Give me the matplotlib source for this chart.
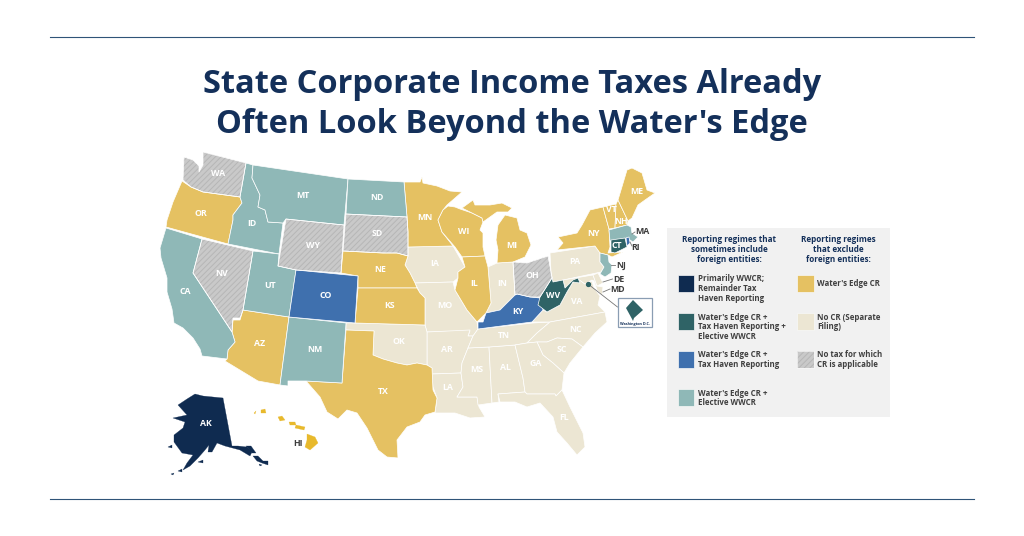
import matplotlib
matplotlib.use("Agg")
import matplotlib.pyplot as plt
from matplotlib.patches import Polygon, Rectangle

TITLE = ["State Corporate Income Taxes Already", "Often Look Beyond the Water's Edge"]
NAVY, DTEAL, BLUE, TEAL, YEL, BEIGE, NOTAX = "#0f2b50", "#2f6366", "#3f70ae", "#8fb8b7", "#e5c162", "#ece6d3", "#c9c9c9"
HATCH = "#b6b6b6"

REGIMES = {
    NOTAX: ["WA", "NV", "WY", "SD", "OH"],
    BEIGE: ["IA", "MO", "AR", "LA", "MS", "AL", "TN", "IN", "PA", "VA", "NC", "SC", "GA", "FL", "OK", "MD", "DE"],
    YEL: ["OR", "AZ", "TX", "NE", "KS", "MN", "WI", "IL", "MI", "NY", "VT", "NH", "ME", "HI"],
    TEAL: ["CA", "ID", "MT", "UT", "NM", "ND", "MA", "NJ"],
    BLUE: ["CO", "KY", "RI"],
    DTEAL: ["WV", "CT", "DC"],
    NAVY: ["AK"],
}

# Traced state outlines, as reference-image positions
SHAPES = {
 "WA": [[(203,152),(246,163),(240,197),(203,192),(191,187),(183,180),(184,157),(193,160),(199,166),(199,172),(203,165)]],
 "OR": [[(182,181),(191,187),(203,192),(240,197),(242,203),(233,215),(233,220),(228,244),(166,227),(167,220),(173,202)]],
 "CA": [[(166,228),(202,239),(193,273),(232,332),(235,342),(228,350),(227,359),(202,356),(200,349),(193,338),(183,328),(174,323),(172,309),(167,292),(167,278),(161,258),(160,248)]],
 "NV": [[(202,239),(253,251),(243,310),(240,318),(233,318),(232,332),(193,273)]],
 "ID": [[(246,163),(253,165),(252,178),(260,195),(258,207),(265,210),(268,222),(283,223),(279,254),(228,244),(233,220),(233,215),(242,203),(240,197)]],
 "MT": [[(253,165),(348,179),(344,225),(286,219),(283,223),(268,222),(265,210),(258,207),(260,195),(252,178)]],
 "WY": [[(286,219),(344,225),(341,273),(296,270),(278,266)]],
 "UT": [[(253,251),(279,254),(278,266),(296,270),(289,317),(243,310)]],
 "CO": [[(296,270),(358,276),(355,323),(289,317)]],
 "AZ": [[(243,310),(289,317),(280,385),(258,381),(225,361),(227,359),(228,350),(235,342),(232,332),(233,320),(240,320)]],
 "NM": [[(289,317),(346,323),(342,383),(306,381),(288,381),(288,386),(280,385)]],
 "ND": [[(348,179),(404,182),(407,217),(346,214)]],
 "SD": [[(346,214),(407,217),(408,232),(408,247),(408,256),(397,253),(383,253),(343,251)]],
 "NE": [[(343,251),(383,253),(397,253),(408,256),(405,265),(410,273),(415,283),(417,288),(358,288),(358,276),(341,273)]],
 "KS": [[(358,288),(417,288),(420,293),(425,298),(425,325),(355,323)]],
 "OK": [[(346,323),(355,323),(425,325),(427,332),(427,365),(417,363),(407,365),(397,363),(383,359),(373,355),(374,331),(346,330)]],
 "TX": [[(346,330),(374,331),(373,355),(383,359),(397,363),(407,365),(417,363),(427,365),(432,368),(433,390),(437,398),(435,412),(425,415),(420,422),(407,427),(397,440),(398,458),(387,457),(378,450),(367,428),(357,413),(347,410),(338,419),(327,412),(320,397),(306,381),(342,383)]],
 "MN": [[(404,182),(420,182),(422,177),(423,183),(437,186),(450,191),(462,192),(447,205),(443,210),(438,220),(442,232),(453,246),(408,247),(408,232),(407,217)]],
 "IA": [[(408,247),(453,246),(457,253),(465,267),(458,272),(458,278),(453,282),(415,283),(410,273),(405,265),(408,256)]],
 "MO": [[(415,283),(453,282),(455,290),(467,310),(477,322),(478,329),(473,336),(468,336),(470,331),(427,332),(425,325),(425,298),(420,293)]],
 "AR": [[(427,332),(470,330),(468,336),(473,336),(468,348),(462,363),(461,373),(432,374),(432,368),(427,365)]],
 "LA": [[(432,374),(461,373),(463,387),(457,397),(477,397),(479,407),(485,417),(470,418),(455,413),(442,413),(435,413),(437,398),(433,387)]],
 "WI": [[(443,210),(448,206),(455,207),(460,209),(472,213),(482,218),(483,222),(480,230),(483,233),(483,247),(485,256),(462,257),(455,247),(442,232),(438,220)]],
 "IL": [[(462,257),(485,256),(488,267),(491,303),(486,313),(477,322),(467,310),(455,290),(458,278),(458,272),(465,267)]],
 "MI": [[(462,208),(473,200),(475,205),(490,205),(502,203),(512,208),(508,212),(497,212),(483,222),(482,218),(472,213)],
        [(498,225),(505,215),(517,218),(520,230),(527,233),(531,245),(525,257),(513,262),(497,263),(498,250),(496,240)]],
 "IN": [[(488,267),(497,263),(513,262),(515,295),(507,303),(500,310),(486,313),(491,303)]],
 "OH": [[(513,262),(527,263),(548,256),(551,272),(552,278),(540,297),(530,297),(517,294),(515,295)]],
 "KY": [[(478,322),(483,322),(486,313),(500,310),(507,303),(515,295),(517,294),(530,297),(540,298),(543,310),(532,322),(478,329)]],
 "TN": [[(478,329),(533,323),(550,322),(537,333),(527,343),(515,345),(489,347),(468,348),(473,336)]],
 "MS": [[(468,348),(489,347),(492,403),(478,405),(477,397),(457,397),(463,387),(461,373),(462,363)]],
 "AL": [[(489,347),(515,345),(523,378),(525,392),(498,394),(499,402),(492,403)]],
 "GA": [[(515,345),(527,343),(537,342),(543,355),(553,363),(564,373),(562,390),(556,396),(555,394),(527,394),(525,392),(523,378)]],
 "FL": [[(498,394),(525,392),(527,394),(555,394),(556,396),(562,390),(570,407),(583,433),(585,447),(577,455),(567,443),(557,432),(553,417),(540,403),(527,407),(515,402),(500,402)]],
 "SC": [[(537,342),(547,342),(557,338),(572,339),(583,347),(570,363),(564,373),(553,363),(543,355)]],
 "NC": [[(527,343),(537,333),(550,322),(605,312),(607,322),(595,333),(583,347),(572,339),(557,338),(547,342),(537,342)]],
 "VA": [[(532,322),(543,310),(547,312),(560,305),(567,292),(573,282),(578,279),(585,284),(592,281),(594,288),(600,296),(598,305),(605,312),(550,322)]],
 "WV": [[(552,278),(553,282),(563,280),(565,288),(573,280),(578,278),(580,283),(573,282),(567,292),(560,305),(547,312),(538,305),(540,297)]],
 "PA": [[(550,253),(595,246),(600,253),(600,262),(604,267),(601,272),(563,280),(553,282),(551,272)]],
 "MD": [[(563,280),(593,275),(597,286),(603,287),(602,295),(597,290),(594,281),(592,280),(585,284),(578,279),(565,288)]],
 "DE": [[(593,275),(598,273),(603,283),(599,285),(597,286)]],
 "NJ": [[(600,253),(608,255),(609,262),(612,265),(611,273),(605,277),(600,274),(604,267),(600,262)]],
 "NY": [[(557,250),(563,243),(558,237),(577,233),(582,225),(590,210),(603,207),(609,229),(610,247),(608,253),(623,252),(612,257),(608,255),(600,253),(595,246)]],
 "VT": [[(603,207),(616,204),(615,228),(609,229)]],
 "NH": [[(616,204),(618,200),(628,221),(627,225),(615,228)]],
 "ME": [[(618,200),(627,170),(632,168),(642,173),(647,190),(655,193),(645,200),(638,205),(632,218),(628,221)]],
 "MA": [[(609,230),(627,225),(631,227),(632,233),(638,237),(633,242),(627,238),(610,241)]],
 "CT": [[(611,240),(625,238),(627,247),(615,253),(611,252)]],
 "RI": [[(626,238),(629,237),(630,243),(627,246)]],
 "AK": [[(178,405),(187,399),(195,394),(203,396),(223,398),(232,446),(238,446),(247,447),(252,452),(250,456),(240,450),(225,446),(217,443),(212,452),(208,452),(209,445),(205,450),(198,458),(190,466),(183,470),(187,463),(193,455),(182,453),(174,442),(174,435),(183,428),(185,422),(173,418),(187,415)],
        [(168,447),(172,445),(172,448)],[(198,462),(203,460),(203,463)],[(178,471),(182,469),(182,472)],[(171,474),(174,473),(173,475)],[(246,446),(251,446),(256,453),(252,453)],[(244,450),(249,452),(248,454)],[(253,456),(258,456),(263,461),(268,461),(268,465),(262,463),(257,461)],[(259,464),(262,465),(260,466)]],
 "HI": [[(307,434),(315,437),(318,443),(310,450),(305,447),(307,440)],[(296,425),(305,427),(304,430),(295,428)],[(289,422),(295,422),(296,425),(290,425)],[(278,417),(282,416),(285,420),(280,421)],[(261,410),(265,409),(266,413),(261,413)],[(254,413),(256,411),(255,414)]],
}
DC_SHAPE = [(633,300),(643,310),(634,318),(633,321),(632,319),(626,308)]

LABELS = {
 "WA":(218,174),"OR":(201,214),"CA":(185,292),"NV":(222,273),"ID":(252,224),"MT":(303,196),"WY":(313,246),"UT":(270,285),
 "AZ":(260,344),"CO":(326,296),"NM":(315,349),"ND":(377,197),"SD":(377,233),"NE":(380,269),"KS":(390,305),"OK":(399,342),
 "TX":(383,391),"MN":(425,217),"WI":(464,231),"IL":(474,284),"IA":(435,263),"MO":(445,305),"AR":(447,349),"LA":(448,387),
 "MS":(477,370),"AL":(505,367),"TN":(504,336),"KY":(518,311),"WV":(553,295),"VA":(577,302),"NC":(576,329),"SC":(562,350),
 "GA":(536,364),"FL":(564,417),"MI":(512,245),"IN":(502,283),"OH":(532,276),"PA":(575,262),"NY":(593,233),"VT":(611,210),
 "NH":(621,222),"ME":(637,192),"CT":(617,245),"AK":(206,423),
}
OUT_LABELS = {"HI":(298,443),"MA":(642,232),"RI":(636,247),"NJ":(621,265),"DE":(619,279),"MD":(618,289)}
LEADERS = [((632,234),(635,232)),((630,242),(632,246)),((611,265),(615,265)),((603,282),(612.5,279)),((603,292),(610,289)),((588,284),(617.5,307))]

LEFT_HEAD = ["Reporting regimes that", "sometimes include", "foreign entities:"]
RIGHT_HEAD = ["Reporting regimes", "that exclude", "foreign entities:"]
LEFT_ITEMS = [(NAVY, ["Primarily WWCR;", "Remainder Tax", "Haven Reporting"]),
              (DTEAL, ["Water's Edge CR +", "Tax Haven Reporting +", "Elective WWCR"]),
              (BLUE, ["Water's Edge CR +", "Tax Haven Reporting"]),
              (TEAL, ["Water's Edge CR +", "Elective WWCR"])]
RIGHT_ITEMS = [(YEL, ["Water's Edge CR"]),
               (BEIGE, ["No CR (Separate", "Filing)"]),
               (NOTAX, ["No tax for which", "CR is applicable"])]
ROW_TOPS = [275, 313.3, 351, 389.3]

plt.rcParams["font.family"] = ["Open Sans", "DejaVu Sans"]
plt.rcParams["hatch.linewidth"] = 0.7
fig = plt.figure(figsize=(10.24, 5.36), dpi=100, facecolor="white")
ax = fig.add_axes([0, 0, 1, 1])
ax.set_xlim(0, 1024); ax.set_ylim(536, 0); ax.axis("off")

for y in (37, 499):
    ax.plot([50, 974], [y, y], color="#2f5478", lw=0.8)
for y, line in zip((93, 132.7), TITLE):
    ax.text(512, y, line, ha="center", va="baseline", color="#14305a", fontsize=23.5, fontweight="bold")

def fill(pts, color, lw=0.5, edge="white", z=2):
    if color == NOTAX:
        ax.add_patch(Polygon(pts, closed=True, facecolor=NOTAX, edgecolor=HATCH, hatch="//////", lw=0, zorder=z))
        ax.add_patch(Polygon(pts, closed=True, fill=False, edgecolor=edge, lw=lw, zorder=z + 0.5, joinstyle="round"))
    else:
        ax.add_patch(Polygon(pts, closed=True, facecolor=color, edgecolor=edge, lw=lw, zorder=z, joinstyle="round"))

for color, states in REGIMES.items():
    for st in states:
        if st in SHAPES:
            for part in SHAPES[st]:
                solo = st in ("AK", "HI")
                c = "#e8b92c" if st == "HI" else color
                fill(part, c, lw=0.2 if solo else 0.5, edge=c if solo else "white")

for st, (x, y) in LABELS.items():
    ax.text(x, y, st, ha="center", va="center", color="white", fontsize=6.3, fontweight="bold", zorder=5)
for st, (x, y) in OUT_LABELS.items():
    ax.text(x, y, st, ha="center", va="center", color="#3d3d3d", fontsize=6.3, fontweight="bold", zorder=5)
for a, b in LEADERS:
    ax.plot([a[0], b[0]], [a[1], b[1]], color="#777777", lw=0.6, zorder=4)
ax.plot([588], [284], "o", color=DTEAL, ms=2.8, zorder=5)

ax.add_patch(Rectangle((617.5, 298), 34, 29, facecolor="white", edgecolor="#8a9db3", lw=0.9, zorder=4))
ax.add_patch(Polygon(DC_SHAPE, closed=True, facecolor=DTEAL, edgecolor="none", zorder=5))
ax.text(634.5, 323.5, "Washington D.C.", ha="center", va="center", color="#14305a", fontsize=2.7, fontweight="bold", zorder=6)

ax.add_patch(Rectangle((667, 227.5), 223, 189, facecolor="#f1f1f1", edgecolor="none", zorder=1))
for cx, head in ((729.5, LEFT_HEAD), (838.5, RIGHT_HEAD)):
    for i, line in enumerate(head):
        ax.text(cx, 239.5 + i * 10, line, ha="center", va="center", color="#14305a", fontsize=5.9, fontweight="bold", zorder=3)

def legend_col(items, sx, tx):
    for top, (color, lines) in zip(ROW_TOPS, items):
        pts = [(sx, top), (sx + 16.5, top), (sx + 16.5, top + 16.5), (sx, top + 16.5)]
        fill(pts, color, lw=0.5, edge="#f8f8f8")
        n = len(lines)
        y0 = top + 3.7 if n != 1 else top + 8.3
        for i, line in enumerate(lines):
            ax.text(tx, y0 + i * 9.7, line, ha="left", va="center", color="#404040", fontsize=5.7, fontweight="bold", zorder=3)

legend_col(LEFT_ITEMS, 677.8, 697.7)
legend_col(RIGHT_ITEMS, 797.3, 817.3)

fig.savefig("out.png", dpi=100, facecolor="white")
